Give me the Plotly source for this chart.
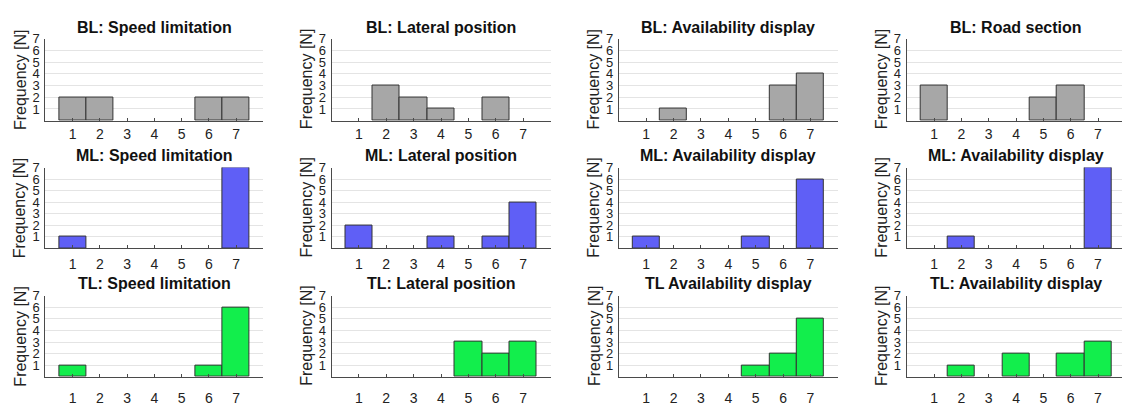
import plotly.graph_objects as go
from plotly.subplots import make_subplots

ratings = [1, 2, 3, 4, 5, 6, 7]
tick_labels = ["1", "2", "3", "4", "5", "6", "7"]
y_ticks = [1, 2, 3, 4, 5, 6, 7]

titles = [
    "BL: Speed limitation", "BL: Lateral position", "BL: Availability display", "BL: Road section",
    "ML: Speed limitation", "ML: Lateral position", "ML: Availability display", "ML: Availability display",
    "TL: Speed limitation", "TL: Lateral position", "TL Availability display", "TL: Availability display",
]

bl_speed = [2, 2, 0, 0, 0, 2, 2]
bl_lateral = [0, 3, 2, 1, 0, 2, 0]
bl_avail = [0, 1, 0, 0, 0, 3, 4]
bl_road = [3, 0, 0, 0, 2, 3, 0]
ml_speed = [1, 0, 0, 0, 0, 0, 7]
ml_lateral = [2, 0, 0, 1, 0, 1, 4]
ml_avail = [1, 0, 0, 0, 1, 0, 6]
ml_avail2 = [0, 1, 0, 0, 0, 0, 7]
tl_speed = [1, 0, 0, 0, 0, 1, 6]
tl_lateral = [0, 0, 0, 0, 3, 2, 3]
tl_avail = [0, 0, 0, 0, 1, 2, 5]
tl_avail2 = [0, 1, 0, 2, 0, 2, 3]

series = [bl_speed, bl_lateral, bl_avail, bl_road,
          ml_speed, ml_lateral, ml_avail, ml_avail2,
          tl_speed, tl_lateral, tl_avail, tl_avail2]

row_colors = ["#a7a7a7", "#5f5ff6", "#12ee4c"]

W, H = 1122, 406
# pixel geometry
col_px = [(45.4, 263.4), (331.5, 550.5), (618.8, 837.8), (906.7, 1122.0)]
col_units = [8.0, 8.0, 8.0, (1122.0 - 906.7) / 27.33]
col_center_px = [154.4, 441.0, 728.3, 1016.0]
row_px = [(33, 119), (168, 252.5), (302, 387)]
row_title_gap = [1, 2, 2]
row_label_standoff = [0, 3, 8]

fig = make_subplots(rows=3, cols=4)

font_fam = "Liberation Sans, Arial, sans-serif"
annotations = []
for i, vals in enumerate(series):
    r, c = divmod(i, 4)
    fig.add_trace(
        go.Bar(
            x=ratings, y=[v if v else None for v in vals], width=1.0,
            marker=dict(color=row_colors[r], line=dict(color="#333333", width=1)),
            showlegend=False, hoverinfo="skip",
        ),
        row=r + 1, col=c + 1,
    )
    idx = "" if i == 0 else str(i + 1)
    x0, x1 = col_px[c]
    ytop, ybot = row_px[r]
    fig.layout["xaxis" + idx].update(
        domain=[x0 / W, x1 / W], range=[0, col_units[c]],
        tickvals=ratings, ticktext=tick_labels,
        showgrid=False, zeroline=False,
        showline=True, linecolor="#4a4a4a", linewidth=1,
        ticks="inside", ticklen=3, tickcolor="#4a4a4a",
        ticklabelstandoff=row_label_standoff[r],
        tickfont=dict(size=14, color="#222222", family=font_fam),
        fixedrange=True,
    )
    fig.layout["yaxis" + idx].update(
        domain=[1 - ybot / H, 1 - ytop / H], range=[0, 7],
        tickvals=y_ticks,
        showgrid=True, gridcolor="#e4e4e4", gridwidth=1,
        zeroline=False,
        showline=True, linecolor="#4a4a4a", linewidth=1,
        ticks="", ticklabelstandoff=2,
        tickfont=dict(size=13, color="#222222", family=font_fam),
        fixedrange=True,
    )
    annotations.append(dict(
        text="<b>" + titles[i] + "</b>", xref="paper", yref="paper",
        x=col_center_px[c] / W, y=1 - ytop / H, xanchor="center", yanchor="bottom",
        yshift=row_title_gap[r], showarrow=False,
        font=dict(size=16, color="#111111", family=font_fam),
    ))
    annotations.append(dict(
        text="Frequency [N]", xref="paper", yref="paper",
        x=(x0 - 25) / W, y=1 - (ytop + ybot) / 2 / H, xanchor="center", yanchor="middle",
        textangle=-90, showarrow=False, font=dict(size=16, color="#222222", family=font_fam),
    ))

fig.update_layout(
    width=W, height=H,
    margin=dict(l=0, r=0, t=0, b=0),
    paper_bgcolor="white", plot_bgcolor="white",
    bargap=0,
    annotations=annotations,
    font=dict(family=font_fam),
)

fig.write_html(
    "out.html",
    config={"displayModeBar": False},
    post_script="document.body.style.margin='0';document.body.style.padding='0';"
                "document.body.style.overflow='hidden';",
)
